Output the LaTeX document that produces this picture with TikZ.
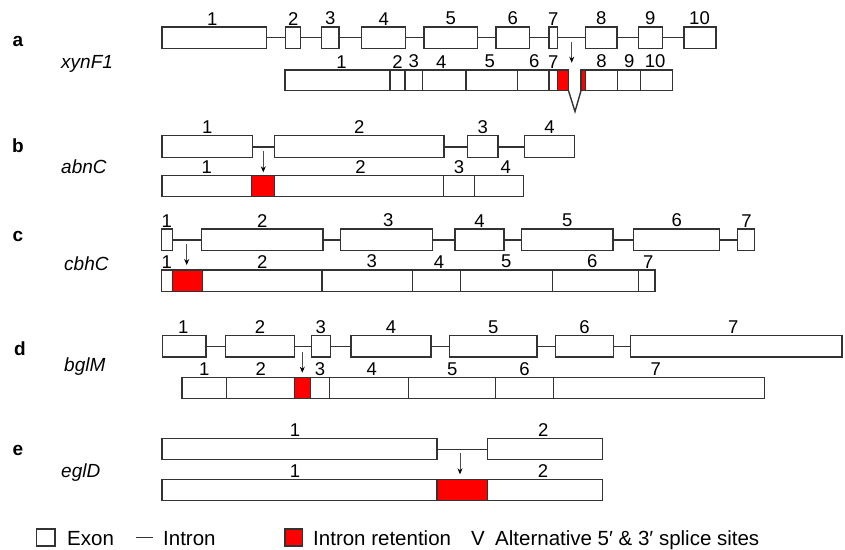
\documentclass[tikz,border=0pt]{standalone}
\usepackage{fontspec}
\setmainfont{Liberation Sans}
\usetikzlibrary{arrows.meta,fit}
\definecolor{linec}{HTML}{333333}
\tikzset{
  ex/.style={draw=linec, line width=1.4pt, fill=white, inner sep=0pt, outer sep=0pt},
  ret/.style={ex, fill=red},
  intr/.style={draw=linec, line width=1.5pt},
  num/.style={font=\fontsize{18.5}{19}\selectfont, inner sep=0pt, anchor=south},
  gene/.style={font=\fontsize{19}{20}\selectfont\itshape, inner sep=0pt, anchor=base west},
  panel/.style={font=\fontsize{19}{20}\selectfont\bfseries, inner sep=0pt, anchor=base},
  leg/.style={font=\fontsize{20.5}{21}\selectfont, inner sep=0pt, anchor=base west},
  pointer/.style={draw=gray!60!black, line width=0.8pt, -{Stealth[length=6pt,width=5pt,black]}},
}
% \seg[style]{name}{x1}{x2}{y1}{y2}
\newcommand{\seg}[6][ex]{\node[#1, fit={(#3,#5) (#4,#6)}] (#2) {};}
% \lab[xshift]{node}{text}
\newcommand{\lab}[3][0]{\node[num, xshift=#1pt] (#2-l) at ([yshift=1.8pt]#2.north) {#3};}
\begin{document}
\begin{tikzpicture}[x=1pt,y=-1pt]
\fill[white] (0,0) rectangle (845,549);
\useasboundingbox (0,0) rectangle (845,549);

% ---------------- panel a ----------------
\node[panel] (pa) at (18,46.7) {a};
\node[gene] (ga) at (61,68) {xynF1};
\draw[intr] (162,37.7) coordinate (ia0) -- (716,37.7) coordinate (ia1);
\seg{a1}{162}{266.7}{27}{48.5}
\seg{a2}{285.7}{300.7}{27}{48.5}
\seg{a3}{321.7}{339}{27}{48.5}
\seg{a4}{361.7}{405.7}{27}{48.5}
\seg{a5}{424}{477.3}{27}{48.5}
\seg{a6}{496}{529.3}{27}{48.5}
\seg{a7}{549}{557.7}{27}{48.5}
\seg{a8}{585.3}{617}{27}{48.5}
\seg{a9}{638.3}{662.3}{27}{48.5}
\seg{a10}{684}{716}{27}{48.5}
\lab[-2]{a1}{1}\lab{a2}{2}\lab{a3}{3}\lab{a4}{4}\lab{a5}{5}
\lab{a6}{6}\lab{a7}{7}\lab{a8}{8}\lab{a9}{9}\lab[-0.5]{a10}{10}
\seg{as1}{285}{390}{70}{90.7}
\seg{as2}{390}{405}{70}{90.7}
\seg{as3}{405}{422.3}{70}{90.7}
\seg{as4}{422.3}{466}{70}{90.7}
\seg{as5}{466}{517.7}{70}{90.7}
\seg{as6}{517.7}{549}{70}{90.7}
\seg{as7}{549}{557.7}{70}{90.7}
\seg[ret]{ar1}{557.7}{568.5}{70}{90.7}
\seg[ret]{ar2}{581}{585.5}{70}{90.7}
\seg{as8}{585.5}{617.7}{70}{90.7}
\seg{as9}{617.7}{640.7}{70}{90.7}
\seg{as10}{640.7}{672.7}{70}{90.7}
\lab[4]{as1}{1}\lab{as2}{2}\lab{as3}{3}\lab[-3]{as4}{4}\lab[-2]{as5}{5}
\lab[1]{as6}{6}\lab{as7}{7}\lab{as8}{8}\lab{as9}{9}\lab[-1.5]{as10}{10}
\coordinate (vtip) at (575,111.5);
\draw[intr, line width=1.4pt, line join=miter] (ar1.south east) -- (vtip) -- (ar2.south west);
\coordinate (paS) at (571.7,41.7);
\coordinate (paE) at (571.7,62.7);
\draw[pointer] (paS) -- (paE);

% ---------------- panel b ----------------
\node[panel] (pb) at (18,152.7) {b};
\node[gene] (gb) at (61,173) {abnC};
\draw[intr] (162,147) coordinate (ib0) -- (574.3,147) coordinate (ib1);
\seg{b1}{162}{252.7}{135.7}{157.3}
\seg{b2}{274.3}{444}{135.7}{157.3}
\seg{b3}{467.3}{498}{135.7}{157.3}
\seg{b4}{524.7}{574.3}{135.7}{157.3}
\lab{b1}{1}\lab{b2}{2}\lab{b3}{3}\lab{b4}{4}
\seg{bs1}{162}{251.7}{175.3}{196.3}
\seg[ret]{br}{251.7}{274.3}{175.3}{196.3}
\seg{bs2}{274.3}{443.7}{175.3}{196.3}
\seg{bs3}{443.7}{474.3}{175.3}{196.3}
\seg{bs4}{474.3}{523.3}{175.3}{196.3}
\lab{bs1}{1}\lab[1.5]{bs2}{2}\lab{bs3}{3}\lab[7]{bs4}{4}
\coordinate (pbS) at (263.3,151);
\coordinate (pbE) at (263.3,172.3);
\draw[pointer] (pbS) -- (pbE);

% ---------------- panel c ----------------
\node[panel] (pc) at (18,241.7) {c};
\node[gene] (gc) at (64,270) {cbhC};
\draw[intr] (161.3,240) coordinate (ic0) -- (754.3,240) coordinate (ic1);
\seg{c1}{161.3}{172.3}{229}{250.3}
\seg{c2}{201.7}{323}{229}{250.3}
\seg{c3}{340.7}{432.3}{229}{250.3}
\seg{c4}{455}{504}{229}{250.3}
\seg{c5}{521.3}{613}{229}{250.3}
\seg{c6}{633.3}{719.3}{229}{250.3}
\seg{c7}{737.7}{754.3}{229}{250.3}
\lab{c1}{1}\lab{c2}{2}\lab[1.8]{c3}{3}\lab{c4}{4}\lab{c5}{5}\lab[0.5]{c6}{6}\lab[0.6]{c7}{7}
\seg{cs1}{161.3}{172.3}{270}{291.3}
\seg[ret]{cr}{172.3}{202.3}{270}{291.3}
\seg{cs2}{202.3}{322}{270}{291.3}
\seg{cs3}{322}{412.7}{270}{291.3}
\seg{cs4}{412.7}{460.3}{270}{291.3}
\seg{cs5}{460.3}{552.3}{270}{291.3}
\seg{cs6}{552.3}{638.3}{270}{291.3}
\seg{cs7}{638.3}{655}{270}{291.3}
\lab{cs1}{1}\lab{cs2}{2}\lab[4.5]{cs3}{3}\lab[2.5]{cs4}{4}\lab{cs5}{5}\lab[-3]{cs6}{6}\lab[1.5]{cs7}{7}
\coordinate (pcS) at (186.7,244.3);
\coordinate (pcE) at (186.7,265);
\draw[pointer] (pcS) -- (pcE);

% ---------------- panel d ----------------
\node[panel] (pd) at (20,355) {d};
\node[gene] (gd) at (64,371) {bglM};
\draw[intr] (162.3,346.3) coordinate (id0) -- (842,346.3) coordinate (id1);
\seg{d1}{162.3}{206}{335.7}{357}
\seg{d2}{225.3}{294.7}{335.7}{357}
\seg{d3}{311.3}{330.3}{335.7}{357}
\seg{d4}{351}{431}{335.7}{357}
\seg{d5}{449.3}{537}{335.7}{357}
\seg{d6}{555.7}{613.3}{335.7}{357}
\seg{d7}{630.7}{842}{335.7}{357}
\lab[-1]{d1}{1}\lab{d2}{2}\lab{d3}{3}\lab{d4}{4}\lab{d5}{5}\lab{d6}{6}\lab[-3]{d7}{7}
\seg{ds1}{182}{226.7}{377.3}{398.7}
\seg{ds2}{226.7}{294.7}{377.3}{398.7}
\seg[ret]{dr}{294.7}{310.3}{377.3}{398.7}
\seg{ds3}{310.3}{329.7}{377.3}{398.7}
\seg{ds4}{329.7}{408.7}{377.3}{398.7}
\seg{ds5}{408.7}{495.7}{377.3}{398.7}
\seg{ds6}{495.7}{553.3}{377.3}{398.7}
\seg{ds7}{553.3}{764.3}{377.3}{398.7}
\lab{ds1}{1}\lab{ds2}{2}\lab{ds3}{3}\lab[2.5]{ds4}{4}\lab{ds5}{5}\lab{ds6}{6}\lab[-3]{ds7}{7}
\coordinate (pdS) at (302.3,351.7);
\coordinate (pdE) at (302.3,372.7);
\draw[pointer] (pdS) -- (pdE);

% ---------------- panel e ----------------
\node[panel] (pe) at (18,455.7) {e};
\node[gene] (ge) at (61,477) {eglD};
\draw[intr] (162,449.3) coordinate (ie0) -- (602.7,449.3) coordinate (ie1);
\seg{e1}{162}{437}{438.3}{459.7}
\seg{e2}{487.7}{602.7}{438.3}{459.7}
\lab[-4.5]{e1}{1}\lab[-2]{e2}{2}
\seg{es1}{162}{437}{479.3}{500.3}
\seg[ret]{er}{437}{487.3}{479.3}{500.3}
\seg{es2}{487.3}{602.7}{479.3}{500.3}
\lab[-4.5]{es1}{1}\lab[-2]{es2}{2}
\coordinate (peS) at (460,453.3);
\coordinate (peE) at (460,474.3);
\draw[pointer] (peS) -- (peE);

% ---------------- legend ----------------
\seg{lex}{36.5}{55}{529}{546}
\node[leg] (lext) at (67,545.5) {Exon};
\coordinate (lin0) at (136,537.5);
\coordinate (lin1) at (153,537.5);
\draw[intr] (lin0) -- (lin1);
\node[leg] (lint) at (163,545.5) {Intron};
\seg[ret]{lret}{285}{302.5}{529}{546}
\node[leg] (lrett) at (313,545.5) {Intron retention};
\node[leg] (lv) at (471,545.5) {V};
\node[leg] (lvt) at (495,545.5) {Alternative 5′ \& 3′ splice sites};
\end{tikzpicture}
\end{document}
